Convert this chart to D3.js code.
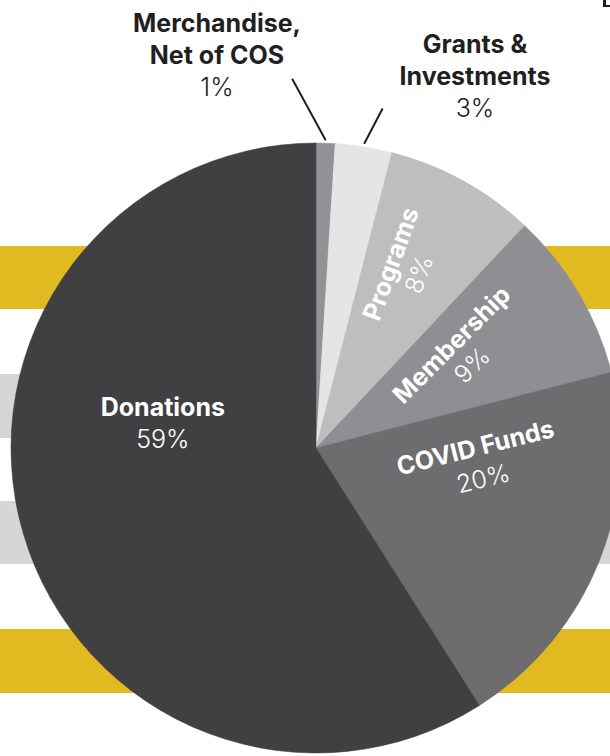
<!DOCTYPE html>
<html>
<head>
<meta charset="utf-8">
<script src="https://cdn.jsdelivr.net/npm/d3@7"></script>
<style>
  html, body { margin: 0; padding: 0; background: #fff; }
  svg { display: block; font-family: Inter, "Noto Sans", sans-serif; }
</style>
</head>
<body>
<div id="chart"></div>
<script>
// revenue sources, clockwise from 12 o'clock
const categories = ["Merchandise, Net of COS", "Grants & Investments", "Programs", "Membership", "COVID Funds", "Donations"];
const shares = [1, 3, 8, 9, 20, 59];
const shareLabels = ["1%", "3%", "8%", "9%", "20%", "59%"];
const sliceColors = ["#929195", "#e4e5e4", "#bdbebd", "#8f8e92", "#6d6c6e", "#403f41"];

const width = 610, height = 756;
const cx = 316, cy = 448, radius = 305;
const gold = "#e1ba22", lightGray = "#d6d6d6";
const fontSize = 25;

// decorative stripes behind the pie
const bands = [
  { y0: 246, y1: 309, color: gold },
  { y0: 374, y1: 438, color: lightGray },
  { y0: 501, y1: 564, color: lightGray },
  { y0: 629, y1: 693, color: gold }
];

// label placement: polar anchor (deg from top, px from centre) and rotation
const insideLabels = {
  "Programs":    { angle: 28.9, r: 201, rotate: -70, gap: 30 },
  "Membership":  { angle: 60.2, r: 175, rotate: -45, gap: 29 },
  "COVID Funds": { angle: 98.1, r: 167, rotate: -14, gap: 32 },
  "Donations":   { angle: 276,  r: 154, rotate: 0,   gap: 32 }
};
const outsideLabels = {
  "Merchandise, Net of COS": { lines: ["Merchandise,", "Net of COS"], x: 217, y: 32, lineFrom: { angle: -3.7, r: 370 } },
  "Grants & Investments":    { lines: ["Grants &", "Investments"], x: 475, y: 53, lineFrom: { angle: 11.1, r: 346 } }
};

function polar(angleDeg, r) {
  const a = angleDeg * Math.PI / 180;
  return [cx + r * Math.sin(a), cy - r * Math.cos(a)];
}

const svg = d3.select("#chart").append("svg")
  .attr("width", width)
  .attr("height", height);

svg.selectAll("rect.band")
  .data(bands)
  .enter()
  .append("rect")
  .attr("class", "band")
  .attr("x", 0)
  .attr("width", width)
  .attr("y", d => d.y0)
  .attr("height", d => d.y1 - d.y0)
  .attr("fill", d => d.color);

// small cut-off mark in the top right corner
svg.append("path")
  .attr("d", "M603,0 V7 H610 V5 H606 V0 Z")
  .attr("fill", "#231f20");

const data = categories.map((c, i) => ({ name: c, value: shares[i], label: shareLabels[i], color: sliceColors[i] }));

const pie = d3.pie().sort(null).value(d => d.value);
const arc = d3.arc().innerRadius(0).outerRadius(radius);
const arcs = pie(data);

const g = svg.append("g").attr("transform", `translate(${cx},${cy})`);

g.selectAll("path")
  .data(arcs)
  .enter()
  .append("path")
  .attr("d", arc)
  .attr("fill", d => d.data.color)
  .attr("stroke", d => d.data.color)
  .attr("stroke-width", 0.5);

// labels inside the slices
arcs.filter(d => insideLabels[d.data.name]).forEach(d => {
  const L = insideLabels[d.data.name];
  const [x, y] = polar(L.angle, L.r);
  const lg = svg.append("g")
    .attr("transform", `translate(${x},${y}) rotate(${L.rotate})`)
    .attr("text-anchor", "middle")
    .attr("fill", "#fff");
  lg.append("text")
    .attr("y", -L.gap / 2)
    .attr("font-size", fontSize)
    .attr("font-weight", 700)
    .text(d.data.name);
  lg.append("text")
    .attr("y", L.gap / 2)
    .attr("font-size", fontSize)
    .attr("font-weight", 300)
    .text(d.data.label);
});

// labels outside with leader lines
arcs.filter(d => outsideLabels[d.data.name]).forEach(d => {
  const L = outsideLabels[d.data.name];
  const mid = (d.startAngle + d.endAngle) / 2 * 180 / Math.PI;
  const p0 = polar(L.lineFrom.angle, L.lineFrom.r);
  const p1 = polar(mid, radius + 3);
  svg.append("line")
    .attr("x1", p0[0]).attr("y1", p0[1])
    .attr("x2", p1[0]).attr("y2", p1[1])
    .attr("stroke", "#231f20")
    .attr("stroke-width", 2);
  const t = svg.append("text")
    .attr("text-anchor", "middle")
    .attr("fill", "#231f20")
    .attr("font-size", fontSize);
  L.lines.forEach((line, i) => {
    t.append("tspan")
      .attr("x", L.x)
      .attr("y", L.y + i * 32)
      .attr("font-weight", 700)
      .text(line);
  });
  t.append("tspan")
    .attr("x", L.x)
    .attr("y", L.y + L.lines.length * 32)
    .attr("font-weight", 300)
    .text(d.data.label);
});
</script>
</body>
</html>
